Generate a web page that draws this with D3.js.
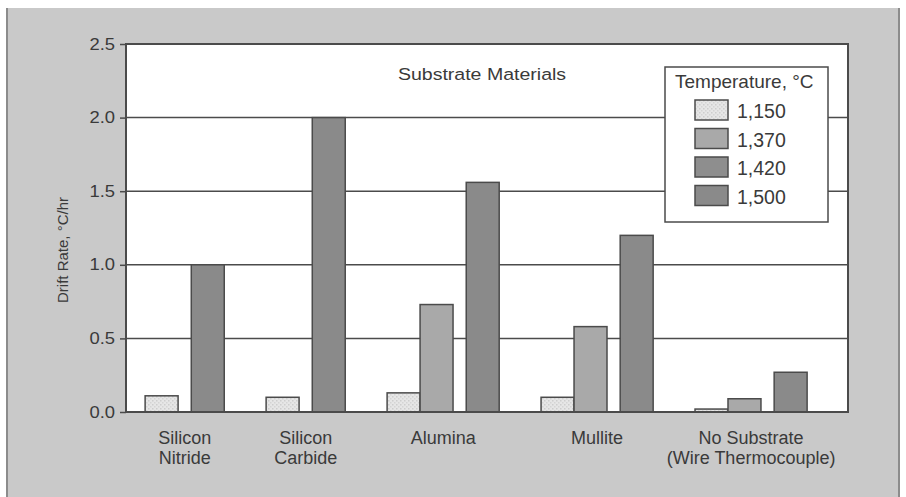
<!DOCTYPE html>
<html>
<head>
<meta charset="utf-8">
<script src="https://cdn.jsdelivr.net/npm/d3@7"></script>
<style>
  body { margin: 0; background: #fff; }
  text { font-family: "Liberation Sans", Arial, sans-serif; fill: #3a3a3a; }
</style>
</head>
<body>
<div id="chart"></div>
<script>
// Data
const categories = [
  ["Silicon", "Nitride"],
  ["Silicon", "Carbide"],
  ["Alumina"],
  ["Mullite"],
  ["No Substrate", "(Wire Thermocouple)"]
];
const temps = ["1,150", "1,370", "1,420", "1,500"];
const v1150 = [0.11, 0.10, 0.13, 0.10, 0.02];
const v1370 = [null, null, 0.73, 0.58, 0.09];
const v1420 = [null, null, null, null, null];
const v1500 = [1.00, 2.00, 1.56, 1.20, 0.27];
const yTicks = [0, 0.5, 1.0, 1.5, 2.0, 2.5];
const title = "Substrate Materials";
const yLabel = "Drift Rate, \u00B0C/hr";
const legendTitle = "Temperature, \u00B0C";

const series = [v1150, v1370, v1420, v1500];
const fills = ["#e2e2e2", "#a9a9a9", "#8e8e8e", "#8a8a8a"];
const stroke = "#4b4b4b";

const W = 906, H = 497;
const plot = { left: 126, right: 848, top: 44, bottom: 412 };

const svg = d3.select("#chart").append("svg")
  .attr("width", W)
  .attr("height", H);

// speckled fill for the lightest series
const defs = svg.append("defs");
const pat = defs.append("pattern")
  .attr("id", "speck")
  .attr("width", 4).attr("height", 4)
  .attr("patternUnits", "userSpaceOnUse");
pat.append("rect").attr("width", 4).attr("height", 4).attr("fill", "#e6e6e6");
pat.append("rect").attr("x", 0).attr("y", 0).attr("width", 1.5).attr("height", 1.5).attr("fill", "#cdcdcd");
pat.append("rect").attr("x", 2).attr("y", 2).attr("width", 1.5).attr("height", 1.5).attr("fill", "#d4d4d4");

// grey panel behind the chart
svg.append("rect")
  .attr("x", 7).attr("y", 8)
  .attr("width", 892).attr("height", H - 8)
  .attr("fill", "#c9c9c9");
svg.append("line").attr("x1", 7).attr("x2", 7).attr("y1", 8).attr("y2", H)
  .attr("stroke", "#8c8c8c").attr("stroke-width", 2);
svg.append("line").attr("x1", 899).attr("x2", 899).attr("y1", 8).attr("y2", H)
  .attr("stroke", "#8c8c8c").attr("stroke-width", 2);

// bar layout in bar-width units: 1,150 and 1,370 touch, small gap before the hot bar, wider gap between groups
const outerLeft = 0.58, outerRight = 1.24, groupGap = 1.27, hotGap = 0.4;
const bars = [], groups = [];
let u = outerLeft;
categories.forEach((cat, i) => {
  if (i > 0) u += groupGap;
  const start = u;
  let gapped = false;
  series.forEach((vals, s) => {
    const v = vals[i];
    if (v == null) return;
    if (s >= 2 && !gapped && u > start) { u += hotGap; gapped = true; }
    bars.push({ cat: i, s, v, u0: u });
    u += 1;
  });
  groups.push({ lines: cat, mid: (start + u) / 2 });
});
const total = u + outerRight;

const x = d3.scaleLinear().domain([0, total]).range([plot.left, plot.right]);
const y = d3.scaleLinear().domain([0, 2.5]).range([plot.bottom, plot.top]);

// plot area
svg.append("rect")
  .attr("x", plot.left).attr("y", plot.top)
  .attr("width", plot.right - plot.left).attr("height", plot.bottom - plot.top)
  .attr("fill", "#fff");

svg.append("g").selectAll("line")
  .data(yTicks.filter(d => d > 0 && d < 2.5))
  .join("line")
  .attr("x1", plot.left).attr("x2", plot.right)
  .attr("y1", d => y(d)).attr("y2", d => y(d))
  .attr("stroke", stroke).attr("stroke-width", 1.5);

svg.append("g").selectAll("rect")
  .data(bars)
  .join("rect")
  .attr("x", d => x(d.u0))
  .attr("width", d => x(d.u0 + 1) - x(d.u0))
  .attr("y", d => y(d.v))
  .attr("height", d => y(0) - y(d.v))
  .attr("fill", d => d.s === 0 ? "url(#speck)" : fills[d.s])
  .attr("stroke", stroke).attr("stroke-width", 1.5);

svg.append("rect")
  .attr("x", plot.left).attr("y", plot.top)
  .attr("width", plot.right - plot.left).attr("height", plot.bottom - plot.top)
  .attr("fill", "none").attr("stroke", stroke).attr("stroke-width", 2);

// y axis
const yAxis = svg.append("g")
  .attr("transform", `translate(${plot.left},0)`)
  .call(d3.axisLeft(y).tickValues(yTicks).tickFormat(d3.format(".1f")).tickSize(6).tickPadding(5));
yAxis.select(".domain").remove();
yAxis.selectAll(".tick line").attr("stroke", stroke).attr("stroke-width", 1.5);
yAxis.selectAll(".tick text")
  .attr("font-size", 16)
  .attr("font-family", "Liberation Sans, Arial, sans-serif")
  .attr("fill", "#3a3a3a")
  .attr("x", -11 / 1.15)
  .attr("transform", "scale(1.15,1)");

svg.append("text")
  .attr("transform", "translate(68,250) rotate(-90)")
  .attr("text-anchor", "middle")
  .attr("font-size", 15)
  .text(yLabel);

// category labels
const xl = svg.append("g").selectAll("text")
  .data(groups)
  .join("text")
  .attr("text-anchor", "middle")
  .attr("font-size", 18)
  .attr("transform", d => `translate(${x(d.mid)},444)`);
xl.selectAll("tspan")
  .data(d => d.lines)
  .join("tspan")
  .attr("x", 0)
  .attr("y", (d, i) => i * 20)
  .text(d => d);

// title inside plot
svg.append("text")
  .attr("transform", "translate(482,80) scale(1.15,1)")
  .attr("text-anchor", "middle")
  .attr("font-size", 17)
  .text(title);

// legend
const lg = svg.append("g");
lg.append("rect")
  .attr("x", 665).attr("y", 67)
  .attr("width", 163).attr("height", 155)
  .attr("fill", "#fff").attr("stroke", stroke).attr("stroke-width", 1.5);
lg.append("text")
  .attr("x", 675).attr("y", 88)
  .attr("font-size", 19)
  .text(legendTitle);

const ly = d3.scaleBand().domain(temps).range([100, 214]);
const items = lg.selectAll("g.item")
  .data(temps)
  .join("g")
  .attr("class", "item")
  .attr("transform", d => `translate(695,${ly(d)})`);
items.append("rect")
  .attr("width", 33).attr("height", 20)
  .attr("fill", (d, i) => i === 0 ? "url(#speck)" : fills[i])
  .attr("stroke", stroke).attr("stroke-width", 1.5);
items.append("text")
  .attr("x", 42).attr("y", 18)
  .attr("font-size", 19.5)
  .text(d => d);
</script>
</body>
</html>
